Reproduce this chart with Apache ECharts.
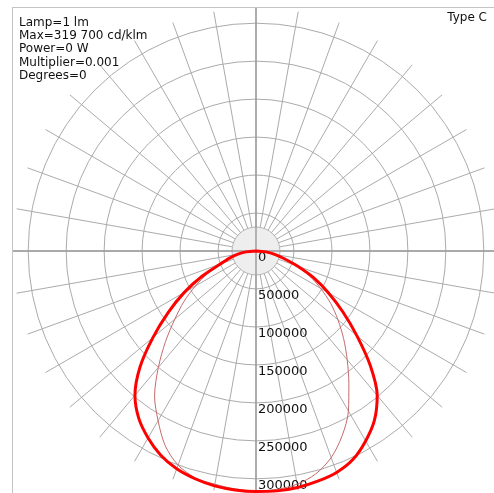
<!DOCTYPE html>
<html>
<head>
<meta charset="utf-8">
<script src="https://cdn.jsdelivr.net/npm/echarts@6/dist/echarts.min.js"></script>
<style>
html,body{margin:0;padding:0;background:#fff;}
#c{width:494px;height:493px;}
</style>
</head>
<body>
<div id="c"></div>
<script>
// gamma angles from nadir (deg)
var gammaAngles = [0,5,10,15,20,25,30,35,40,45,50,55,60,65,70,75,80,85,90];
// thick curve, right half (C0) and left half (C180), cd/klm
var c0Values   = [316900,317100,316200,313800,310300,302600,288800,272000,248300,212500,173300,139500,110000,84000,58000,38000,25000,13000,0];
var c180Values = [316700,315800,314000,310500,305300,296700,284200,269100,248000,216000,177000,141000,109000,78000,50000,36000,25000,13000,0];
// thin curve, right half (C90) and left half (C270)
var c90Values  = [316400,315100,311800,303900,289500,268400,243400,213200,186800,163200,140800,120000,98000,78000,56000,37000,24500,12800,0];
var c270Values = [315800,314500,311800,309200,300000,282900,257900,232900,200000,168400,139500,115800,92100,70000,48000,35000,24500,12800,0];
// radial tick labels
var radiusTicks = [0,50000,100000,150000,200000,250000,300000];
var infoLines = ['Lamp=1 lm','Max=319 700 cd/klm','Power=0 W','Multiplier=0.001','Degrees=0'];
var typeLabel = 'Type C';

function buildCurve(rightVals, leftVals){
  var d = [];
  for (var i = gammaAngles.length - 1; i >= 0; i--) d.push([leftVals[i], -gammaAngles[i]]);
  for (var j = 1; j < gammaAngles.length; j++) d.push([rightVals[j], gammaAngles[j]]);
  return d;
}

var FONT = 'DejaVu Sans';
var chart = echarts.init(document.getElementById('c'), null, {renderer:'canvas'});
var CENTER = [256, 251];
var RADIUS = 243;
var RMAX = 320000;

var option = {
  animation: false,
  backgroundColor: '#fff',
  title: [
    {text: infoLines.join('\n'), left: 19, top: 16, padding: 0,
     textStyle: {fontFamily: FONT, fontSize: 12, fontWeight: 'normal', color: '#111', lineHeight: 13.3}},
    {text: typeLabel, right: 7, top: 12, padding: 0,
     textStyle: {fontFamily: FONT, fontSize: 12, fontWeight: 'normal', color: '#111'}}
  ],
  polar: [
    {center: CENTER, radius: RADIUS},
    {center: CENTER, radius: RADIUS}
  ],
  angleAxis: [
    {polarIndex: 0, type: 'value', min: -180, max: 180, interval: 10, startAngle: 90, clockwise: false, z: 1,
     axisLine: {show: false}, axisTick: {show: false}, axisLabel: {show: false},
     splitLine: {show: true, lineStyle: {color: '#ababab', width: 1}}},
    {polarIndex: 1, type: 'value', min: 0, max: 360, interval: 90, startAngle: 270, clockwise: false, z: 3,
     axisLine: {show: false}, axisTick: {show: false}, axisLabel: {show: false},
     splitLine: {show: true, lineStyle: {color: '#9a9a9a', width: 1.4}}}
  ],
  radiusAxis: [
    {polarIndex: 0, type: 'value', min: 0, max: RMAX, interval: 50000, z: 1,
     axisLine: {show: false}, axisTick: {show: false}, axisLabel: {show: false},
     splitLine: {show: true, lineStyle: {color: ['transparent','#ababab','#ababab','#ababab','#ababab','#ababab','#ababab','transparent'], width: 1}}},
    {polarIndex: 1, type: 'value', min: 0, max: RMAX, interval: 50000, z: 3,
     axisLine: {show: false}, axisTick: {show: false}, splitLine: {show: false},
     axisLabel: {show: true, showMaxLabel: false, margin: 2, align: 'left', verticalAlign: 'top',
       fontFamily: FONT, fontSize: 13, color: '#111',
       formatter: function(v){ return radiusTicks.indexOf(v) >= 0 ? String(v) : ''; }}}
  ],
  series: [
    {type: 'line', coordinateSystem: 'polar', polarIndex: 0, z: 5, smooth: 0.3, showSymbol: false,
     data: buildCurve(c90Values, c270Values),
     lineStyle: {color: '#c46a6a', width: 1}},
    {type: 'line', coordinateSystem: 'polar', polarIndex: 0, z: 6, smooth: 0.3, showSymbol: false,
     data: buildCurve(c0Values, c180Values),
     lineStyle: {color: '#ff0000', width: 3}}
  ]
};
chart.setOption(option);
var c = chart.convertToPixel({polarIndex: 0}, [0, 0]) || CENTER;
chart.setOption({
  graphic: [
    {type: 'circle', z: 2, shape: {cx: c[0], cy: c[1], r: 24}, style: {fill: '#eeeeee', stroke: '#b5b5b5', lineWidth: 1}},
    {type: 'line', z: 4, shape: {x1: 12.5, y1: 7, x2: 12.5, y2: 493}, style: {stroke: '#c4c4c4', lineWidth: 1}},
    {type: 'line', z: 4, shape: {x1: 12, y1: 7.5, x2: 494, y2: 7.5}, style: {stroke: '#c4c4c4', lineWidth: 1}}
  ]
});
</script>
</body>
</html>
